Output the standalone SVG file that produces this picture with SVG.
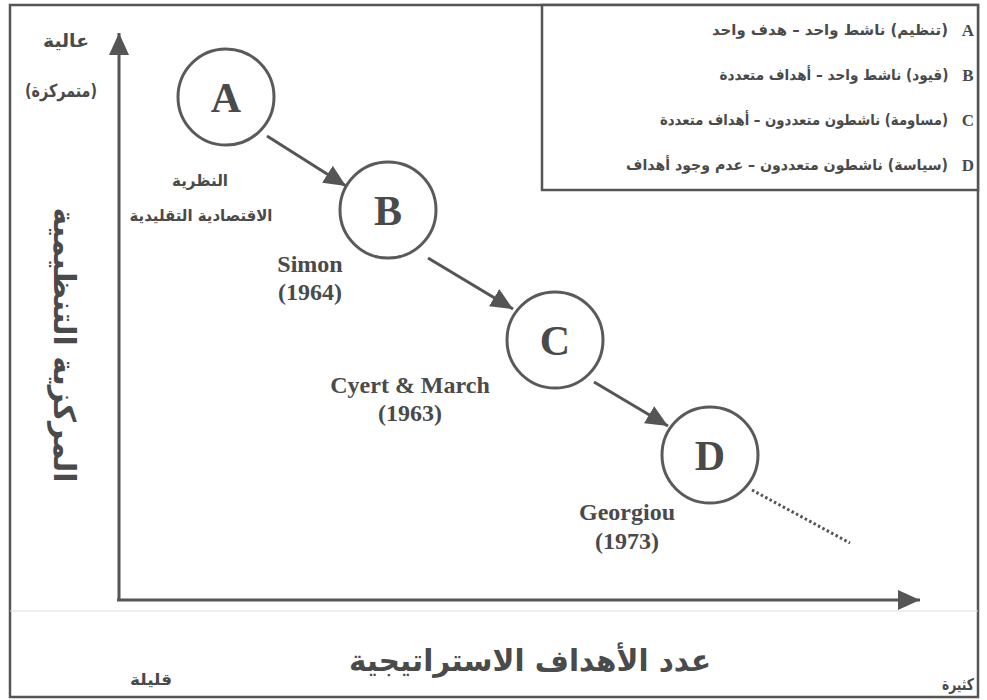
<svg xmlns="http://www.w3.org/2000/svg" width="987" height="700" viewBox="0 0 987 700">
<style>
.ln{stroke:#555;stroke-width:3;fill:none}
.ci{stroke:#5a5a5a;stroke-width:3;fill:#fff}
.en{font-family:"Liberation Serif",serif;font-weight:bold;fill:#4a4a4a}
.ar{font-family:"DejaVu Sans",sans-serif;font-weight:bold;fill:#4a4a4a;direction:rtl}
.lt{font-family:"Liberation Serif",serif;font-weight:bold;font-size:42px;fill:#4a4a4a}
</style>
<defs>
<marker id="ah" markerUnits="userSpaceOnUse" markerWidth="24" markerHeight="20" refX="22" refY="10" orient="auto">
<path d="M0,0 L22,10 L0,20 Z" fill="#555"/>
</marker>
</defs>
<rect x="1" y="1" width="985" height="698" fill="#fff"/>
<rect x="10" y="5" width="968" height="692" fill="none" stroke="#555" stroke-width="2.5"/>
<line x1="10" y1="611" x2="978" y2="611" stroke="#ddd" stroke-width="1"/>

<g id="legend">
<rect x="542" y="5" width="436" height="185" fill="#fff" stroke="#555" stroke-width="2.5"/>
<text class="en" x="968" y="36" font-size="17" text-anchor="middle">A</text>
<text class="en" x="968" y="81" font-size="17" text-anchor="middle">B</text>
<text class="en" x="968" y="126" font-size="17" text-anchor="middle">C</text>
<text class="en" x="968" y="171" font-size="17" text-anchor="middle">D</text>
<text class="ar" x="830" y="35" font-size="15" text-anchor="middle" textLength="236" lengthAdjust="spacingAndGlyphs">(تنظيم) ناشط واحد – هدف واحد</text>
<text class="ar" x="834" y="80" font-size="15" text-anchor="middle" textLength="229" lengthAdjust="spacingAndGlyphs">(قيود) ناشط واحد – أهداف متعددة</text>
<text class="ar" x="804" y="125" font-size="15" text-anchor="middle" textLength="288" lengthAdjust="spacingAndGlyphs">(مساومة) ناشطون متعددون – أهداف متعددة</text>
<text class="ar" x="787" y="170" font-size="15" text-anchor="middle" textLength="322" lengthAdjust="spacingAndGlyphs">(سياسة) ناشطون متعددون – عدم وجود أهداف</text>
</g>

<g id="axes">
<line class="ln" x1="119" y1="601" x2="119" y2="33" marker-end="url(#ah)"/>
<line class="ln" x1="117" y1="600" x2="920" y2="600" marker-end="url(#ah)"/>
<text class="ar" x="66" y="47" font-size="18" text-anchor="middle" textLength="46" lengthAdjust="spacingAndGlyphs">عالية</text>
<text class="ar" x="61" y="97" font-size="18" text-anchor="middle" textLength="72" lengthAdjust="spacingAndGlyphs">(متمركزة)</text>
<text class="ar" transform="translate(64,345) rotate(90)" x="0" y="10" font-size="30" text-anchor="middle" textLength="275" lengthAdjust="spacingAndGlyphs">المركزية التنظيمية</text>
<text class="ar" x="530" y="671" font-size="30" text-anchor="middle" textLength="362" lengthAdjust="spacingAndGlyphs">عدد الأهداف الاستراتيجية</text>
<text class="ar" x="151" y="685" font-size="16" text-anchor="middle" textLength="42" lengthAdjust="spacingAndGlyphs">قليلة</text>
<text class="ar" x="958" y="690" font-size="16" text-anchor="middle" textLength="32" lengthAdjust="spacingAndGlyphs">كثيرة</text>
</g>

<g id="connectors">
<line class="ln" x1="267" y1="136" x2="346" y2="186" marker-end="url(#ah)"/>
<line class="ln" x1="428" y1="258" x2="513" y2="309" marker-end="url(#ah)"/>
<line class="ln" x1="594" y1="382" x2="668" y2="426" marker-end="url(#ah)"/>
<line x1="752" y1="490" x2="850" y2="543" stroke="#555" stroke-width="3" stroke-dasharray="2.5 2.5"/>
</g>

<g id="node-A">
<circle class="ci" cx="226" cy="97" r="48"/>
<text class="lt" x="226" y="112" text-anchor="middle">A</text>
<text class="ar" x="200" y="186" font-size="16" text-anchor="middle" textLength="56" lengthAdjust="spacingAndGlyphs">النظرية</text>
<text class="ar" x="201" y="221" font-size="16" text-anchor="middle" textLength="143" lengthAdjust="spacingAndGlyphs">الاقتصادية التقليدية</text>
</g>
<g id="node-B">
<circle class="ci" cx="388" cy="210" r="48"/>
<text class="lt" x="388" y="225" text-anchor="middle">B</text>
<text class="en" x="310" y="272" font-size="24" text-anchor="middle">Simon</text>
<text class="en" x="310" y="300" font-size="24" text-anchor="middle">(1964)</text>
</g>
<g id="node-C">
<circle class="ci" cx="555" cy="340" r="48"/>
<text class="lt" x="555" y="355" text-anchor="middle">C</text>
<text class="en" x="410" y="393" font-size="24" text-anchor="middle">Cyert &amp; March</text>
<text class="en" x="410" y="421" font-size="24" text-anchor="middle">(1963)</text>
</g>
<g id="node-D">
<circle class="ci" cx="710" cy="455" r="48"/>
<text class="lt" x="710" y="470" text-anchor="middle">D</text>
<text class="en" x="627" y="520" font-size="24" text-anchor="middle">Georgiou</text>
<text class="en" x="627" y="549" font-size="24" text-anchor="middle">(1973)</text>
</g>
</svg>
